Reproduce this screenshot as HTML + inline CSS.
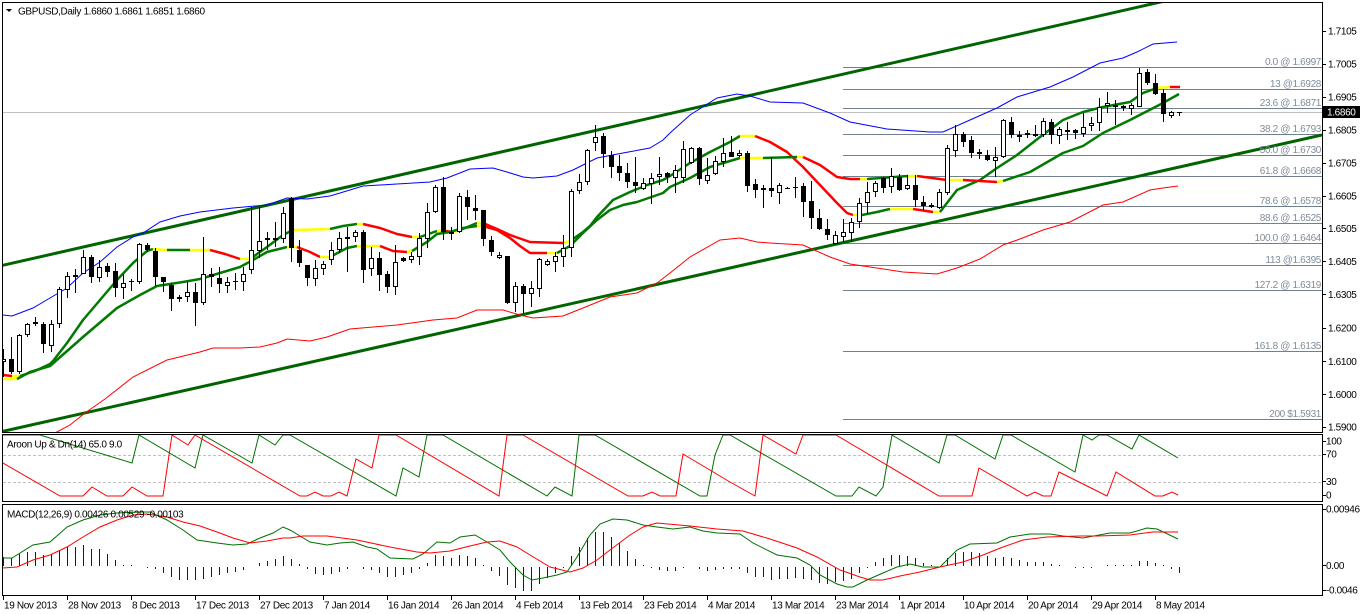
<!DOCTYPE html>
<html><head><meta charset="utf-8"><style>
html,body{margin:0;padding:0;background:#fff;}
svg{display:block;}
text{font-family:"Liberation Sans",sans-serif;font-size:10px;letter-spacing:-0.35px;fill:#000;}
.fl{fill:#7f8c9a;text-anchor:end;}
</style></head><body>
<svg width="1362" height="614" viewBox="0 0 1362 614" xmlns="http://www.w3.org/2000/svg">
<defs>
<clipPath id="cm"><rect x="3" y="3" width="1319" height="429"/></clipPath>
<clipPath id="ca"><rect x="3" y="435" width="1319" height="66"/></clipPath>
<clipPath id="cd"><rect x="3" y="505" width="1319" height="90"/></clipPath>
</defs>
<rect width="1362" height="614" fill="#fff"/>

<!-- fib lines -->
<g stroke="#708090" stroke-width="1" shape-rendering="crispEdges">
<path d="M843 67.5H1322M843 89.5H1322M843 108.5H1322M843 134.5H1322M843 155.5H1322M843 176.5H1322M843 206.5H1322M843 223.5H1322M843 243.5H1322M843 265.5H1322M843 290.5H1322M843 351.5H1322M843 419.5H1322"/>
</g>
<!-- current price line -->
<path d="M3 112.5H1322" stroke="#c0c0c0" stroke-width="1" shape-rendering="crispEdges"/>

<g clip-path="url(#cm)">
<!-- channel -->
<path d="M2 265.5L1200 -7" stroke="#006400" stroke-width="3" fill="none"/>
<path d="M0 432L1322 135" stroke="#006400" stroke-width="3" fill="none"/>
<!-- bands -->
<polyline fill="none" stroke="#0000ff" stroke-width="1" points="3,315 12,316 33,308 50,298 67,288 83,273 100,262 117,247 133,237 143,233 160,222 180,216 200,212 233,208 267,205 287,198 307,199 330,196 340,193 363,186 397,184 430,182 447,178 470,169 493,168 507,172 523,177 533,178 557,176 573,170 597,158 623,153 650,148 663,140 670,133 690,115 717,98 737,94 750,96 770,102 803,103 830,113 850,122 887,129 930,132 943,132 970,120 997,108 1017,97 1050,87 1073,77 1100,63 1123,58 1137,52 1153,44 1177,42"/>
<polyline fill="none" stroke="#ff0000" stroke-width="1" points="55,433 70,425 85,413 105,399 133,377 167,360 200,352 213,348 240,348 260,347 277,343 287,339 310,341 327,337 350,329 397,325 433,320 457,318 477,310 503,310 520,315 533,318 563,316 583,308 610,297 637,293 657,283 670,273 690,257 720,240 740,238 757,242 770,243 803,245 830,257 850,264 870,267 903,272 937,274 957,268 980,259 1003,245 1020,239 1043,230 1070,222 1103,205 1123,202 1150,190 1163,188 1178,186"/>

<!-- MA line P -->
<g fill="none" stroke-width="2.5" stroke-linejoin="round">
<polyline stroke="#ff0000" points="3,375 12,376"/>
<polyline stroke="#ffff00" points="12,376 20,376"/>
<polyline stroke="#007a00" points="20,376 35,371 50,364 53,361 67,343 83,320 100,300 117,280 133,263 147,251 153,249"/>
<polyline stroke="#ffff00" points="153,249 167,250"/>
<polyline stroke="#007a00" points="167,250 190,250"/>
<polyline stroke="#ffff00" points="190,250 210,250"/>
<polyline stroke="#ff0000" points="210,250 225,254 240,259"/>
<polyline stroke="#ffff00" points="240,259 250,259"/>
<polyline stroke="#007a00" points="250,259 267,247 283,235 293,230"/>
<polyline stroke="#ffff00" points="293,230 330,229"/>
<polyline stroke="#007a00" points="330,229 343,226 357,224"/>
<polyline stroke="#ffff00" points="357,224 363,224"/>
<polyline stroke="#ff0000" points="363,224 380,228 397,234 412,237"/>
<polyline stroke="#ffff00" points="412,237 420,237"/>
<polyline stroke="#007a00" points="420,237 437,231"/>
<polyline stroke="#ffff00" points="437,231 445,231"/>
<polyline stroke="#ff0000" points="445,231 452,232"/>
<polyline stroke="#ffff00" points="452,232 458,231"/>
<polyline stroke="#007a00" points="458,231 477,223"/>
<polyline stroke="#ffff00" points="477,223 483,223"/>
<polyline stroke="#ff0000" points="483,223 497,229 510,235 530,242 563,243"/>
<polyline stroke="#ffff00" points="563,243 570,241"/>
<polyline stroke="#007a00" points="570,241 583,232 590,226 597,217 613,200 630,192 647,185 663,180 670,176 690,163 710,152 730,142 740,136"/>
<polyline stroke="#ffff00" points="740,136 755,136"/>
<polyline stroke="#ff0000" points="755,136 770,142 787,152 803,167 820,185 837,203 847,213 853,215"/>
<polyline stroke="#ffff00" points="853,215 862,215"/>
<polyline stroke="#007a00" points="862,215 877,212 890,209"/>
<polyline stroke="#ffff00" points="890,209 913,209"/>
<polyline stroke="#ff0000" points="913,209 933,212"/>
<polyline stroke="#ffff00" points="933,212 940,212"/>
<polyline stroke="#007a00" points="940,212 957,190 980,180 997,168 1017,155 1040,137 1063,120 1083,112 1103,107 1130,102 1143,93 1157,88"/>
<polyline stroke="#ffff00" points="1157,88 1170,87"/>
<polyline stroke="#ff0000" points="1170,87 1180,87"/>
<!-- MA line Q -->
<polyline stroke="#ffff00" points="3,379 17,379"/>
<polyline stroke="#007a00" points="17,379 30,372 50,366 83,337 117,308 140,295 157,286 183,282 200,279 220,273 240,267 253,260 267,252 287,247"/>
<polyline stroke="#ffff00" points="287,247 297,247"/>
<polyline stroke="#ff0000" points="297,247 310,252 320,257"/>
<polyline stroke="#ffff00" points="320,257 330,257"/>
<polyline stroke="#007a00" points="330,257 347,248 357,246"/>
<polyline stroke="#ffff00" points="357,246 380,246"/>
<polyline stroke="#ff0000" points="380,246 393,251 407,252"/>
<polyline stroke="#ffff00" points="407,252 412,251"/>
<polyline stroke="#007a00" points="412,251 427,242 437,234 450,232 463,228 477,226"/>
<polyline stroke="#ffff00" points="477,226 483,226"/>
<polyline stroke="#ff0000" points="483,226 497,230 510,238 520,246 530,253 547,253"/>
<polyline stroke="#ffff00" points="547,253 557,253"/>
<polyline stroke="#007a00" points="557,253 570,246 583,233 597,220 610,210 623,205 637,202 663,193 670,187 690,178 710,167 740,158"/>
<polyline stroke="#ffff00" points="740,158 763,158"/>
<polyline stroke="#007a00" points="763,158 797,157"/>
<polyline stroke="#ffff00" points="797,157 803,157"/>
<polyline stroke="#ff0000" points="803,157 820,165 837,177 850,179 860,179"/>
<polyline stroke="#ffff00" points="860,179 867,179"/>
<polyline stroke="#007a00" points="867,179 908,176"/>
<polyline stroke="#ffff00" points="908,176 917,176"/>
<polyline stroke="#ff0000" points="917,176 947,180"/>
<polyline stroke="#ffff00" points="947,180 963,180"/>
<polyline stroke="#ff0000" points="963,180 997,182"/>
<polyline stroke="#ffff00" points="997,182 1003,181"/>
<polyline stroke="#007a00" points="1003,181 1030,172 1063,153 1083,146 1103,133 1130,120 1163,103 1179,94"/>
</g>

<!-- candles -->
<g shape-rendering="crispEdges">
<path stroke="#000" stroke-width="1" fill="none" d="M3.5 349V377M11.5 337V374M19.5 334V374M27.5 323V337M35.5 317V326M43.5 322V353M51.5 320V352M59.5 287V328M67.5 272V298M75.5 269V293M83.5 250V274M91.5 255V283M99.5 260V282M107.5 263V277M115.5 263V297M123.5 274V299M131.5 279V291M139.5 243V284M147.5 243V252M155.5 248V286M163.5 277V292M171.5 283V311M179.5 295V302M187.5 282V302M195.5 283V326M203.5 237V305M211.5 268V287M219.5 267V293M227.5 277V293M235.5 273V290M243.5 267V291M251.5 207V274M259.5 207V258M267.5 232V250M275.5 222V247M283.5 207V243M291.5 197V262M299.5 240V267M307.5 265V286M315.5 260V286M323.5 261V275M331.5 242V265M339.5 232V253M347.5 227V272M355.5 230V242M363.5 230V283M371.5 247V276M379.5 252V291M387.5 271V293M395.5 245V295M403.5 257V262M411.5 252V263M419.5 233V265M427.5 203V248M435.5 185V213M443.5 177V240M451.5 227V240M459.5 193V233M467.5 190V220M475.5 195V220M483.5 210V246M491.5 236V256M499.5 252V259M507.5 256V304M515.5 282V312M523.5 284V313M531.5 281V307M539.5 258V297M547.5 259V266M555.5 252V272M563.5 235V267M571.5 189V257M579.5 174V194M587.5 149V185M595.5 125V151M603.5 133V168M611.5 151V178M619.5 155V181M627.5 163V188M635.5 157V193M643.5 178V190M651.5 173V204M659.5 157V185M667.5 172V183M675.5 165V193M683.5 141V183M691.5 147V164M699.5 147V185M707.5 158V184M715.5 156V175M723.5 138V167M731.5 136V157M739.5 150V157M747.5 151V192M755.5 179V198M763.5 185V208M771.5 157V197M779.5 183V204M787.5 187V189M795.5 177V198M803.5 183V217M811.5 181V229M819.5 209V230M827.5 219V240M835.5 231V245M843.5 219V242M851.5 218V242M859.5 198V228M867.5 182V214M875.5 181V197M883.5 177V193M891.5 168V193M899.5 174V191M907.5 175V190M915.5 175V207M923.5 196V210M931.5 203V208M939.5 189V209M947.5 145V195M955.5 125V157M963.5 132V147M971.5 136V158M979.5 149V159M987.5 150V161M995.5 147V177M1003.5 119V158M1011.5 117V138M1019.5 131V142M1027.5 130V138M1035.5 125V137M1043.5 118V137M1051.5 119V144M1059.5 127V144M1067.5 122V140M1075.5 129V139M1083.5 113V137M1091.5 117V131M1099.5 98V131M1107.5 92V113M1115.5 100V125M1123.5 105V111M1131.5 103V115M1139.5 68V107M1147.5 69V85M1155.5 74V95M1163.5 89V122M1171.5 111V118M1179.5 112V116"/>
<path fill="#000" d="M9 359h5v13h-5zM33 322h5v2h-5zM41 324h5v20h-5zM73 275h5v2h-5zM89 257h5v20h-5zM105 266h5v6h-5zM113 271h5v17h-5zM129 281h5v1h-5zM145 245h5v5h-5zM153 251h5v26h-5zM161 277h5v5h-5zM169 285h5v14h-5zM177 297h5v2h-5zM193 292h5v11h-5zM209 274h5v3h-5zM217 278h5v6h-5zM233 281h5v1h-5zM265 238h5v2h-5zM273 238h5v2h-5zM289 198h5v50h-5zM297 250h5v13h-5zM305 265h5v13h-5zM345 237h5v2h-5zM361 232h5v38h-5zM377 258h5v17h-5zM385 274h5v13h-5zM401 258h5v3h-5zM441 187h5v45h-5zM449 232h5v2h-5zM465 197h5v10h-5zM473 208h5v3h-5zM481 210h5v29h-5zM489 240h5v12h-5zM505 256h5v47h-5zM521 286h5v8h-5zM601 136h5v18h-5zM609 155h5v12h-5zM617 166h5v7h-5zM625 173h5v9h-5zM633 182h5v4h-5zM665 173h5v4h-5zM697 148h5v31h-5zM729 152h5v5h-5zM745 153h5v33h-5zM753 184h5v6h-5zM761 188h5v2h-5zM769 188h5v3h-5zM785 188h5v1h-5zM793 187h5v1h-5zM801 186h5v16h-5zM809 201h5v17h-5zM817 218h5v11h-5zM825 229h5v6h-5zM881 178h5v10h-5zM897 177h5v13h-5zM913 185h5v15h-5zM921 202h5v4h-5zM929 205h5v2h-5zM961 134h5v8h-5zM969 140h5v13h-5zM977 152h5v2h-5zM985 155h5v5h-5zM1009 122h5v13h-5zM1025 133h5v2h-5zM1033 134h5v2h-5zM1049 122h5v13h-5zM1065 130h5v2h-5zM1073 130h5v3h-5zM1113 105h5v2h-5zM1121 106h5v2h-5zM1145 72h5v11h-5zM1153 83h5v11h-5zM1161 93h5v21h-5zM1177 112h5v1h-5z"/>
<path fill="#fff" stroke="#000" stroke-width="1" d="M1.5 359.5h4v2h-4zM17.5 335.5h4v36h-4zM25.5 324.5h4v10h-4zM49.5 324.5h4v21h-4zM57.5 289.5h4v34h-4zM65.5 276.5h4v13h-4zM81.5 257.5h4v16h-4zM97.5 267.5h4v10h-4zM121.5 283.5h4v4h-4zM137.5 244.5h4v37h-4zM185.5 292.5h4v4h-4zM201.5 274.5h4v28h-4zM225.5 282.5h4v3h-4zM241.5 274.5h4v7h-4zM249.5 250.5h4v19h-4zM257.5 241.5h4v9h-4zM281.5 213.5h4v25h-4zM313.5 268.5h4v10h-4zM321.5 264.5h4v4h-4zM329.5 250.5h4v9h-4zM337.5 238.5h4v11h-4zM353.5 232.5h4v4h-4zM369.5 258.5h4v10h-4zM393.5 262.5h4v24h-4zM409.5 256.5h4v3h-4zM417.5 238.5h4v18h-4zM425.5 212.5h4v26h-4zM433.5 187.5h4v24h-4zM457.5 196.5h4v35h-4zM497.5 255.5h4v2h-4zM513.5 286.5h4v16h-4zM529.5 288.5h4v5h-4zM537.5 259.5h4v29h-4zM545.5 261.5h4v3h-4zM553.5 256.5h4v5h-4zM561.5 248.5h4v8h-4zM569.5 191.5h4v56h-4zM577.5 182.5h4v8h-4zM585.5 150.5h4v31h-4zM593.5 137.5h4v5h-4zM641.5 183.5h4v5h-4zM649.5 178.5h4v5h-4zM657.5 174.5h4v2h-4zM673.5 170.5h4v7h-4zM681.5 149.5h4v28h-4zM689.5 148.5h4v14h-4zM705.5 175.5h4v5h-4zM713.5 161.5h4v12h-4zM721.5 153.5h4v8h-4zM737.5 153.5h4v2h-4zM777.5 185.5h4v7h-4zM833.5 235.5h4v8h-4zM841.5 232.5h4v4h-4zM849.5 222.5h4v10h-4zM857.5 203.5h4v18h-4zM865.5 192.5h4v10h-4zM873.5 183.5h4v8h-4zM889.5 176.5h4v10h-4zM905.5 185.5h4v3h-4zM937.5 192.5h4v15h-4zM945.5 148.5h4v44h-4zM953.5 134.5h4v16h-4zM993.5 157.5h4v3h-4zM1001.5 120.5h4v36h-4zM1017.5 135.5h4v1h-4zM1041.5 121.5h4v13h-4zM1057.5 129.5h4v6h-4zM1081.5 127.5h4v6h-4zM1089.5 123.5h4v2h-4zM1097.5 107.5h4v15h-4zM1105.5 103.5h4v2h-4zM1129.5 105.5h4v3h-4zM1137.5 73.5h4v33h-4zM1169.5 112.5h4v3h-4z"/>
</g>
</g>

<!-- fib labels -->
<text class="fl" x="1321" y="65">0.0 @ 1.6997</text>
<text class="fl" x="1321" y="87">13 @1.6928</text>
<text class="fl" x="1321" y="106">23.6 @ 1.6871</text>
<text class="fl" x="1321" y="132">38.2 @ 1.6793</text>
<text class="fl" x="1321" y="153">50.0 @ 1.6730</text>
<text class="fl" x="1321" y="174">61.8 @ 1.6668</text>
<text class="fl" x="1321" y="204">78.6 @ 1.6578</text>
<text class="fl" x="1321" y="221">88.6 @ 1.6525</text>
<text class="fl" x="1321" y="241">100.0 @ 1.6464</text>
<text class="fl" x="1321" y="263">113 @1.6395</text>
<text class="fl" x="1321" y="288">127.2 @ 1.6319</text>
<text class="fl" x="1321" y="349">161.8 @ 1.6135</text>
<text class="fl" x="1321" y="417">200 $1.5931</text>

<!-- Aroon -->
<path d="M3 455.5H1322M3 482.5H1322" stroke="#c0c0c0" stroke-width="1" stroke-dasharray="3,2" shape-rendering="crispEdges"/>
<g clip-path="url(#ca)" fill="none" stroke-width="1">
<polyline stroke="#007000" points="3,435 40,435 132,463 139,435 195,468 203,435 252,463 259,435 275,445 283,435 290,435 396,496 403,468 419,477 427,435 443,435 547,496 555,487 572,496 579,435 595,435 700,496 707,496 715,455 723,435 730,435 836,496 852,496 859,487 876,496 883,487 892,435 939,463 947,435 955,435 995,459 1003,435 1011,435 1075,472 1083,435 1092,440 1099,435 1107,435 1132,449 1139,435 1178,458"/>
<polyline stroke="#ff0000" points="3,463 60,496 83,496 92,487 107,496 123,496 132,487 147,496 163,496 172,435 188,445 195,435 300,496 307,496 315,492 323,496 331,496 339,492 347,496 356,459 372,468 379,435 396,435 499,496 507,435 523,435 628,496 643,496 652,492 660,496 676,496 683,454 730,482 755,496 763,435 796,454 803,435 836,435 939,496 972,496 979,468 1027,496 1035,492 1043,496 1051,496 1059,472 1107,496 1116,472 1155,496 1163,496 1172,492 1178,495"/>
</g>

<!-- MACD -->
<g clip-path="url(#cd)">
<path transform="translate(-0.5,0)" stroke="#0000ff" stroke-width="1" fill="none" shape-rendering="crispEdges" d="M4 566V557M12 566V558M20 566V554M28 566V552M36 566V552M44 566V555M52 566V554M60 566V551M68 566V547M76 566V547M84 566V545M92 566V549M100 566V549M108 566V554M116 566V560M124 566V565M132 566V565M148 567V568M156 567V569M164 567V573M172 567V577M180 567V580M188 567V580M196 567V580M204 567V579M212 567V577M220 567V575M228 567V573M236 567V572M244 567V570M260 566V563M268 566V561M276 566V559M284 566V556M292 566V559M300 566V564M308 567V569M316 567V574M324 567V575M332 567V574M340 567V572M348 567V569M364 567V569M372 567V570M380 567V573M388 567V577M396 567V577M404 567V575M412 567V573M420 567V569M428 566V563M436 566V555M444 566V556M452 566V558M460 566V555M468 566V556M476 566V558M484 566V565M492 567V571M500 567V576M508 567V585M516 567V588M524 567V591M532 567V591M540 567V584M548 567V578M556 567V573M564 567V568M572 566V556M580 566V547M588 566V538M596 566V532M604 566V532M612 566V537M620 566V543M628 566V551M636 566V559M644 566V565M652 567V568M660 567V570M668 567V571M676 567V571M684 567V568M700 567V569M708 567V571M716 567V570M724 567V569M732 567V569M740 567V569M748 567V573M756 567V577M764 567V577M772 567V580M780 567V579M788 567V579M796 567V578M804 567V579M812 567V580M820 567V583M828 567V584M836 567V582M844 567V581M852 567V579M860 567V573M868 567V568M876 566V562M884 566V558M892 566V555M900 566V555M908 566V556M916 566V558M924 566V563M932 566V565M948 566V558M956 566V553M964 566V552M972 566V552M980 566V553M988 566V556M996 566V558M1004 566V557M1012 566V558M1020 566V560M1028 566V562M1036 566V562M1044 566V562M1052 566V564M1060 566V565M1076 567V568M1084 567V568M1092 567V568M1108 566V565M1116 566V565M1124 566V565M1132 566V565M1140 566V561M1148 566V561M1156 566V563M1164 566V565M1172 567V569M1180 567V573"/>
<g fill="none" stroke-width="1">
<polyline stroke="#007000" points="3,558 12,558 33,545 50,542 67,527 83,520 100,515 117,513 140,512 150,512 167,520 183,530 197,540 217,543 233,545 247,544 260,538 273,533 283,527 290,530 300,536 310,542 327,545 340,543 353,542 367,547 377,549 390,558 413,559 423,554 437,542 450,543 460,537 475,535 487,542 500,550 510,562 523,575 532,580 543,578 557,575 567,572 577,557 590,535 600,524 613,519 627,520 643,525 657,527 673,529 690,527 703,531 717,533 740,534 753,543 777,555 797,558 810,565 820,575 837,584 847,587 853,587 867,580 883,573 897,567 910,564 923,567 940,567 957,550 970,544 997,543 1010,537 1030,534 1050,534 1063,536 1083,538 1110,533 1130,533 1147,528 1157,529 1178,539"/>
<polyline stroke="#ff0000" points="3,568 17,567 33,560 50,555 67,547 83,537 100,527 117,520 133,515 147,514 167,517 183,522 200,526 217,532 233,538 250,543 267,541 283,538 290,538 303,536 327,536 357,540 390,547 417,552 430,553 450,551 470,546 487,542 500,541 517,547 530,555 550,567 570,572 583,568 597,560 610,550 630,535 643,527 657,523 690,526 717,529 743,531 770,539 797,548 817,557 840,570 860,577 870,580 883,580 900,576 920,572 940,567 963,562 983,555 1003,547 1023,540 1047,537 1080,536 1097,536 1130,535 1153,532 1178,532"/>
</g>
</g>

<!-- frames -->
<g fill="none" stroke="#000" stroke-width="1" shape-rendering="crispEdges">
<rect x="2.5" y="2.5" width="1320" height="430"/>
<rect x="2.5" y="434.5" width="1320" height="67"/>
<rect x="2.5" y="504.5" width="1320" height="91"/>
<path d="M1322 31.5h4M1322 64.5h4M1322 97.5h4M1322 130.5h4M1322 163.5h4M1322 196.5h4M1322 228.5h4M1322 261.5h4M1322 294.5h4M1322 328.5h4M1322 361.5h4M1322 394.5h4M1322 427.5h4M1322 441.5h4M1322 454.5h4M1322 481.5h4M1322 495.5h4M1322 509.5h4M1322 565.5h4M1322 590.5h4"/>
<path d="M3.5 596v4M67.5 596v4M131.5 596v4M195.5 596v4M259.5 596v4M323.5 596v4M387.5 596v4M451.5 596v4M515.5 596v4M579.5 596v4M643.5 596v4M707.5 596v4M771.5 596v4M835.5 596v4M899.5 596v4M963.5 596v4M1027.5 596v4M1091.5 596v4M1155.5 596v4"/>
</g>

<!-- title / labels -->
<polygon points="6,9 12,9 9,12" fill="#000"/>
<text x="18" y="14.5">GBPUSD,Daily  1.6860 1.6861 1.6851 1.6860</text>
<text x="7" y="447.5">Aroon Up &amp; Dn(14) 65.0 9.0</text>
<text x="7" y="517.5">MACD(12,26,9) 0.00426 0.00529 -0.00103</text>

<!-- price axis -->
<text x="1328" y="34.5">1.7105</text>
<text x="1328" y="67.5">1.7005</text>
<text x="1328" y="100.5">1.6905</text>
<text x="1328" y="133.5">1.6805</text>
<text x="1328" y="166.5">1.6705</text>
<text x="1328" y="199.5">1.6605</text>
<text x="1328" y="232">1.6505</text>
<text x="1328" y="265">1.6405</text>
<text x="1328" y="298">1.6305</text>
<text x="1328" y="331.5">1.6200</text>
<text x="1328" y="365">1.6100</text>
<text x="1328" y="398">1.6000</text>
<text x="1328" y="430.5">1.5900</text>
<rect x="1323" y="106" width="37" height="12" fill="#000"/>
<text x="1327" y="115.5" style="fill:#fff">1.6860</text>

<text x="1326" y="444.5">100</text>
<text x="1326" y="457.5">70</text>
<text x="1326" y="485">30</text>
<text x="1326" y="498.5">0</text>
<text x="1326" y="512.5">0.00946</text>
<text x="1326" y="569">0.00</text>
<text x="1326" y="593.5">-0.0046</text>

<!-- dates -->
<text x="4" y="608.5">19 Nov 2013</text>
<text x="68" y="608.5">28 Nov 2013</text>
<text x="132" y="608.5">8 Dec 2013</text>
<text x="196" y="608.5">17 Dec 2013</text>
<text x="260" y="608.5">27 Dec 2013</text>
<text x="324" y="608.5">7 Jan 2014</text>
<text x="388" y="608.5">16 Jan 2014</text>
<text x="452" y="608.5">26 Jan 2014</text>
<text x="516" y="608.5">4 Feb 2014</text>
<text x="580" y="608.5">13 Feb 2014</text>
<text x="644" y="608.5">23 Feb 2014</text>
<text x="708" y="608.5">4 Mar 2014</text>
<text x="772" y="608.5">13 Mar 2014</text>
<text x="836" y="608.5">23 Mar 2014</text>
<text x="900" y="608.5">1 Apr 2014</text>
<text x="964" y="608.5">10 Apr 2014</text>
<text x="1028" y="608.5">20 Apr 2014</text>
<text x="1092" y="608.5">29 Apr 2014</text>
<text x="1156" y="608.5">8 May 2014</text>
</svg>
</body></html>
